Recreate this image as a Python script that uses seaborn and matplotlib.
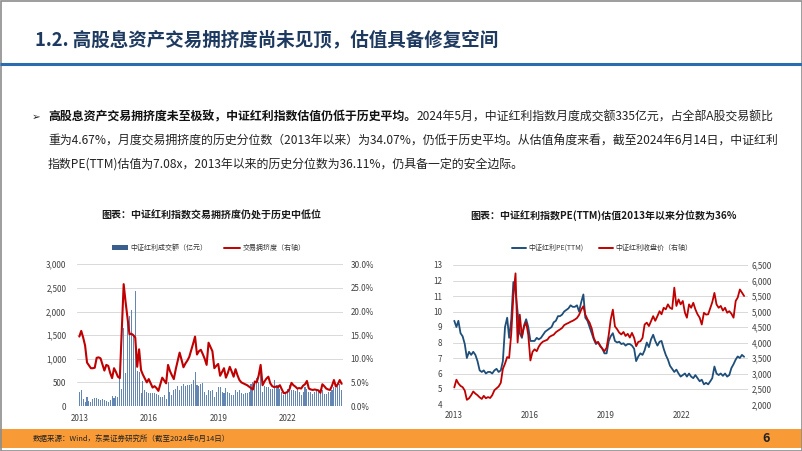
import numpy as np
import pandas as pd
import matplotlib
matplotlib.use("Agg")
import matplotlib.pyplot as plt
import seaborn as sns
from matplotlib.patches import Rectangle, Patch
from matplotlib.lines import Line2D
from matplotlib.ticker import FuncFormatter

sns.set_theme(style="white")
plt.rcParams["font.family"] = ["Noto Sans CJK SC", "DejaVu Sans"]
plt.rcParams["axes.unicode_minus"] = False

# ---------------- data ----------------
# left chart: monthly, 2013-01 .. 2024-05
volume = [300, 335, 150, 90, 195, 105, 90, 140, 170, 160,
          155, 120, 155, 135, 105, 85, 130, 210, 160, 210,
          200, 595, 350, 1645, 700, 1920, 1900, 2030, 1500, 2435,
          740, 720, 270, 520, 330, 300, 280, 275, 275, 275,
          250, 225, 200, 190, 240, 155, 510, 300, 230, 330,
          350, 420, 335, 420, 475, 420, 440, 440, 475, 550,
          720, 455, 430, 475, 490, 300, 230, 335, 320, 335,
          195, 300, 405, 405, 300, 265, 385, 300, 265, 230,
          230, 335, 300, 335, 270, 250, 265, 285, 300, 475,
          510, 480, 600, 500, 710, 300, 420, 405, 405, 370,
          370, 545, 440, 440, 370, 300, 240, 285, 370, 455,
          335, 335, 320, 370, 300, 226, 300, 405, 350, 300,
          300, 262, 300, 335, 310, 370, 330, 262, 262, 300,
          300, 335, 405, 380, 425, 475, 335]
crowding = [14.7, 15.9, 14.5, 12.8, 9.2, 8.6, 8.0, 8.0, 8.1, 10.2,
            10.3, 10.1, 8.8, 7.5, 8.7, 8.5, 7.0, 5.9, 8.0, 7.2,
            6.2, 5.9, 16.0, 25.8, 22.0, 18.5, 15.2, 15.3, 15.0, 14.5,
            8.3, 12.0, 7.6, 6.6, 5.8, 5.0, 5.7, 4.8, 3.9, 4.2,
            3.8, 3.2, 4.6, 6.0, 5.4, 4.8, 8.7, 7.4, 6.5, 5.7,
            7.8, 9.6, 11.3, 9.8, 8.2, 9.0, 9.6, 10.4, 11.8, 13.2,
            14.7, 10.9, 11.6, 11.9, 11.0, 10.0, 8.7, 13.4, 12.5, 11.6,
            8.0, 8.5, 8.9, 6.4, 7.2, 8.0, 6.0, 7.0, 8.3, 7.3,
            6.2, 7.8, 6.5, 5.5, 5.0, 4.8, 4.6, 4.4, 4.1, 3.8,
            3.5, 5.2, 5.0, 6.5, 8.7, 4.4, 5.2, 5.8, 6.2, 4.8,
            4.2, 4.0, 4.1, 4.0, 4.4, 3.5, 2.7, 2.8, 3.0, 3.6,
            4.9, 4.4, 4.1, 3.7, 3.8, 3.7, 4.3, 4.6, 5.3, 3.7,
            3.5, 3.4, 3.5, 3.4, 3.3, 2.8, 4.6, 4.2, 3.7, 3.5,
            3.4, 4.3, 5.5, 4.1, 4.6, 5.5, 4.7]
left_ticks = [0, 36, 72, 108]
year_labels = ["2013", "2016", "2019", "2022"]

# right chart: monthly, 2013-01 .. 2024-06
pe_ttm = [9.4, 9.0, 9.4, 8.6, 8.4, 7.9, 7.0, 7.4, 7.2, 7.4,
          7.2, 6.8, 6.2, 6.1, 6.2, 6.0, 6.1, 6.1, 6.0, 6.2,
          6.3, 6.1, 6.2, 6.8, 9.0, 9.6, 8.3, 9.5, 11.9, 11.3,
          10.0, 8.6, 8.3, 9.1, 9.5, 9.0, 8.1, 8.1, 8.1, 8.3,
          8.2, 8.3, 8.5, 8.7, 8.8, 8.9, 9.0, 9.3, 9.4, 9.7,
          9.7, 9.8, 10.0, 10.1, 10.2, 10.4, 10.3, 10.3, 10.4, 10.0,
          10.6, 11.1, 9.6, 9.4, 9.0, 8.6, 8.2, 7.9, 8.0, 7.8,
          7.6, 7.3, 7.3, 8.1, 8.4, 8.6, 8.1, 8.0, 8.05, 7.9,
          7.95, 7.8, 7.9, 7.9, 7.8, 7.6, 6.8, 7.1, 7.3, 7.2,
          7.5, 8.0, 7.7, 8.2, 8.5, 8.1, 7.8, 8.05, 8.1, 7.6,
          7.2, 6.9, 6.5, 6.3, 6.1, 6.25, 6.0, 5.8, 5.9, 6.0,
          5.8, 6.0, 5.8, 5.7, 5.9, 5.7, 5.5, 5.6, 5.3, 5.4,
          5.3, 5.5, 5.7, 6.45, 6.0, 5.9, 6.0, 5.85, 6.0, 5.8,
          5.9, 6.35, 6.6, 6.9, 7.1, 7.0, 7.2, 7.08]
close = [2550, 2800, 2680, 2600, 2560, 2450, 2150, 2200, 2300, 2420,
         2350, 2300, 2230, 2180, 2280, 2200, 2240, 2210, 2300, 2460,
         2520, 2580, 2700, 3150, 3320, 3530, 3500, 4300, 5500, 6230,
         4000, 4900, 4200, 4500, 4650, 4250, 3420, 3700, 3780, 3720,
         3870, 3970, 4030, 4060, 4090, 4180, 4220, 4250, 4330, 4380,
         4420, 4470, 4560, 4600, 4630, 4670, 4700, 4740, 4790, 4890,
         5060, 5170, 4900, 4750, 4640, 4450, 4150, 3990, 4020, 3880,
         3800, 3720, 3830, 4250, 4740, 5060, 4520, 4430, 4320, 4260,
         4340, 4210, 4280, 4160, 4310, 4150, 3880, 4020, 4040, 4150,
         4580, 4640, 4530, 4690, 4850, 4700, 4850, 5010, 4910, 5120,
         5070, 5230, 5120, 5080, 5770, 5180, 5390, 5230, 5340, 4960,
         4800, 5230, 5120, 5280, 5070, 4910, 4800, 4580, 4960, 4900,
         4910, 5120, 5300, 5600, 5230, 5120, 5180, 5030, 5120, 4960,
         5010, 4930, 4800, 5340, 5450, 5710, 5610, 5500]
right_ticks = ["2013-01-01", "2016-01-01", "2019-01-01", "2022-01-01"]

title = "1.2. 高股息资产交易拥挤度尚未见顶，估值具备修复空间"
body_bold = "高股息资产交易拥挤度未至极致，中证红利指数估值仍低于历史平均。"
body_l1 = "2024年5月，中证红利指数月度成交额335亿元，占全部A股交易额比"
body_l2 = "重为4.67%，月度交易拥挤度的历史分位数（2013年以来）为34.07%，仍低于历史平均。从估值角度来看，截至2024年6月14日，中证红利"
body_l3 = "指数PE(TTM)估值为7.08x，2013年以来的历史分位数为36.11%，仍具备一定的安全边际。"
title_left = "图表：中证红利指数交易拥挤度仍处于历史中低位"
title_right = "图表：中证红利指数PE(TTM)估值2013年以来分位数为36%"
leg_left = ["中证红利成交额（亿元）", "交易拥挤度（右轴）"]
leg_right = ["中证红利PE(TTM)", "中证红利收盘价（右轴）"]
source = "数据来源：Wind，东吴证券研究所（截至2024年6月14日）"
page_no = "6"

# ---------------- styles ----------------
W, H = 802, 451
NAVY = "#1F3A60"
BLUE_LINE = "#2B6CB0"
BAR_C = "#6486B3"
RED = "#C00000"
PE_BLUE = "#1F4E79"
GRID = "#D9D9D9"
TICK_C = "#404040"
ORANGE = "#F89A36"

fig = plt.figure(figsize=(W / 100, H / 100), dpi=100)
fig.patch.set_facecolor("white")

# overlay in pixel coordinates
ov = fig.add_axes([0, 0, 1, 1])
ov.set_xlim(0, W)
ov.set_ylim(H, 0)
ov.axis("off")

ov.text(35, 40, title, fontsize=13.3, fontweight="bold", color=NAVY, va="center", ha="left")
ov.plot([0, W], [63.5, 63.5], color=BLUE_LINE, lw=2.2, solid_capstyle="butt")

ov.text(32, 117, "\u27a2", fontsize=7.5, color="#222222", va="center", ha="left",
        family=["DejaVu Sans"])
tb = ov.text(48, 117, body_bold, fontsize=8.6, fontweight="bold", color="#111111",
             va="center", ha="left")
ov.annotate(body_l1, xy=(1, 0.5), xycoords=tb, fontsize=8.6, color="#222222",
            va="center", ha="left")
ov.text(48, 141, body_l2, fontsize=8.6, color="#222222", va="center", ha="left")
ov.text(48, 164, body_l3, fontsize=8.6, color="#222222", va="center", ha="left")

ov.text(211.5, 216, title_left, fontsize=7.2, fontweight="bold", color="#1a1a1a",
        va="center", ha="center")
ov.text(603.5, 216, title_right, fontsize=7.2, fontweight="bold", color="#1a1a1a",
        va="center", ha="center")

ov.add_patch(Rectangle((0, 429), W, 18.5, facecolor=ORANGE, edgecolor="none"))
ov.text(33, 438.5, source, fontsize=5.4, color="#222222", va="center", ha="left")
ov.text(766, 438.5, page_no, fontsize=9, fontweight="bold", color="#222222",
        va="center", ha="center")
ov.add_patch(Rectangle((0.5, 0.5), W - 1, H - 1, facecolor="none",
                       edgecolor="#8C8C8C", lw=1.2))


def fpx(x0, y0, x1, y1):
    return [x0 / W, 1 - y1 / H, (x1 - x0) / W, (y1 - y0) / H]


# ---------------- left chart ----------------
dfL = pd.DataFrame({"idx": np.arange(len(volume)), "volume": volume, "crowding": crowding})
axL = fig.add_axes(fpx(76.7, 264.3, 343, 406))
sns.barplot(data=dfL, x="idx", y="volume", ax=axL, color=BAR_C, width=0.55,
            saturation=1, native_scale=True, linewidth=0)
axL2 = axL.twinx()
sns.lineplot(data=dfL, x="idx", y="crowding", ax=axL2, color=RED, lw=1.5)
axL.set_xlim(-1.35, 136.7)
axL.set_ylim(0, 3000)
axL2.set_ylim(0, 30)
axL.set_yticks(np.arange(0, 3001, 500))
axL2.set_yticks(np.arange(0, 30.1, 5))
axL.yaxis.set_major_formatter(FuncFormatter(lambda v, p: f"{v:,.0f}"))
axL2.yaxis.set_major_formatter(FuncFormatter(lambda v, p: f"{v:.1f}%"))
axL.set_xticks(left_ticks)
axL.set_xticklabels(year_labels)
axL.yaxis.grid(True, color=GRID, lw=0.7)
axL.set_axisbelow(True)
for a in (axL, axL2):
    a.set_xlabel("")
    a.set_ylabel("")
    for s in a.spines.values():
        s.set_visible(False)
    a.tick_params(axis="both", length=0, labelsize=5.8, labelcolor=TICK_C)
axL.tick_params(axis="y", pad=7.5)
axL.tick_params(axis="x", pad=6)
axL2.tick_params(axis="y", pad=5.5)
axL2.grid(False)
axL.patch.set_alpha(0)

hL = [Patch(facecolor="#3A5F8F", edgecolor="none"), Line2D([], [], color=RED, lw=1.4)]
fig.legend(hL, leg_left, loc="center", bbox_to_anchor=(209 / W, 1 - 248 / H), ncol=2,
           frameon=False, fontsize=5, handlelength=2.3, handleheight=0.7,
           handletextpad=0.4, columnspacing=2.4, labelcolor="#333333")

# ---------------- right chart ----------------
dates = pd.date_range("2013-01-01", periods=len(pe_ttm), freq="MS") + pd.Timedelta(days=14)
dfR = pd.DataFrame({"date": dates, "pe": pe_ttm, "close": close})
axP = fig.add_axes(fpx(453.3, 265, 748, 404.5))
sns.lineplot(data=dfR, x="date", y="pe", ax=axP, color=PE_BLUE, lw=1.3)
axC = axP.twinx()
sns.lineplot(data=dfR, x="date", y="close", ax=axC, color=RED, lw=1.3)
axP.set_xlim(pd.Timestamp("2013-01-01"), pd.Timestamp("2024-08-10"))
axP.set_ylim(4, 13)
axC.set_ylim(2000, 6500)
axP.set_yticks(np.arange(4, 13.1, 1))
axC.set_yticks(np.arange(2000, 6501, 500))
axC.yaxis.set_major_formatter(FuncFormatter(lambda v, p: f"{v:,.0f}"))
axP.set_xticks(pd.to_datetime(right_ticks))
axP.set_xticklabels(year_labels)
axP.yaxis.grid(True, color=GRID, lw=0.7)
axP.set_axisbelow(True)
for a in (axP, axC):
    a.set_xlabel("")
    a.set_ylabel("")
    for s in a.spines.values():
        s.set_visible(False)
    a.tick_params(axis="both", length=0, labelsize=5.8, labelcolor=TICK_C)
axP.tick_params(axis="y", pad=8)
axP.tick_params(axis="x", pad=5)
axC.tick_params(axis="y", pad=2.5)
axC.grid(False)
axP.patch.set_alpha(0)

hR = [Line2D([], [], color=PE_BLUE, lw=1.4), Line2D([], [], color=RED, lw=1.4)]
fig.legend(hR, leg_right, loc="center", bbox_to_anchor=(602 / W, 1 - 248 / H), ncol=2,
           frameon=False, fontsize=5, handlelength=2.0, handletextpad=0.4,
           columnspacing=2.2, labelcolor="#333333")

fig.savefig("out.png", dpi=100, facecolor="white")
